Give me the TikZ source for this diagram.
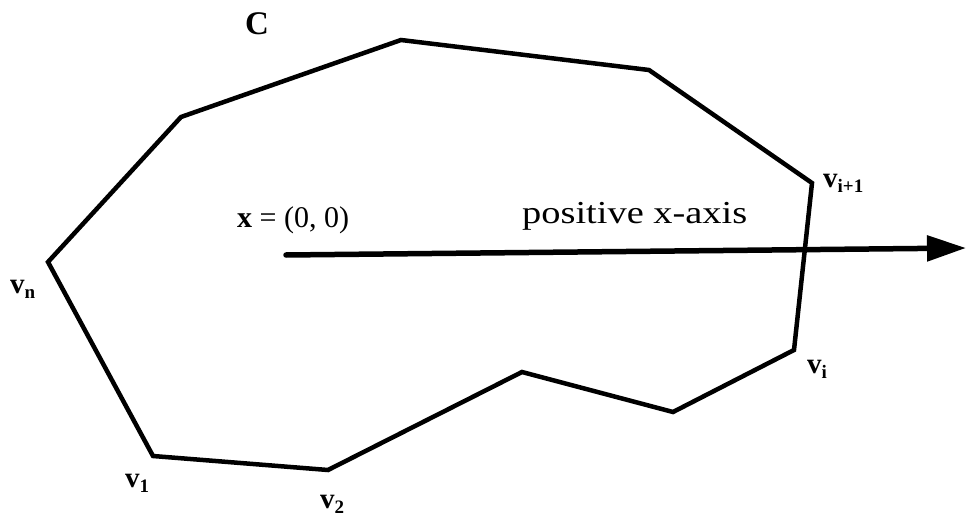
\documentclass[tikz,border=0pt]{standalone}
\usepackage{fontspec}
\setmainfont{Liberation Serif}
\usetikzlibrary{arrows.meta}
\tikzset{
  poly/.style={line width=4.5pt, line join=miter},
  axis/.style={line width=5.5pt, line cap=round, -{Triangle[length=39pt,width=25pt]}},
  vlab/.style={anchor=base west, inner sep=0pt, font=\fontsize{29}{30}\selectfont\bfseries},
  txt/.style={anchor=base west, inner sep=0pt, font=\fontsize{30}{32}\selectfont},
}
\newcommand{\sub}[1]{\raisebox{-5pt}{\fontsize{19}{20}\selectfont\bfseries #1}}
\begin{document}
\begin{tikzpicture}[x=1pt,y=-1pt]
\useasboundingbox (0,0) rectangle (966,516);
\coordinate (vn) at (48,262);
\coordinate (a1) at (181,117);
\coordinate (a2) at (401,40);
\coordinate (a3) at (649,70);
\coordinate (vip) at (812,183);
\coordinate (vi) at (794,350);
\coordinate (a4) at (673,412);
\coordinate (a5) at (522,372);
\coordinate (v2) at (328,470);
\coordinate (v1) at (153,456);
\draw[poly] (vn) -- (a1) -- (a2) -- (a3) -- (vip) -- (vi) -- (a4) -- (a5) -- (v2) -- (v1) -- cycle;
\coordinate (o) at (286,255);
\coordinate (e) at (966,248);
\draw[axis] (o) -- (e);
\node[anchor=base west, inner sep=0pt, font=\fontsize{33}{36}\selectfont\bfseries] (C) at (245,35) {C};
\node[txt] (x) at (237,227) {\textbf{x} = (0, 0)};
\node[txt] (pos) at (522,223) {\scalebox{1.2}[1]{\fontsize{32}{34}\selectfont positive x-axis}};
\node[vlab] (lvip) at (823,187) {v\sub{i+1}};
\node[vlab] (lvn) at (10,293) {v\sub{n}};
\node[vlab] (lvi) at (807,373) {v\sub{i}};
\node[vlab] (lv1) at (125,487) {v\sub{1}};
\node[vlab] (lv2) at (320,508) {v\sub{2}};
\end{tikzpicture}
\end{document}
